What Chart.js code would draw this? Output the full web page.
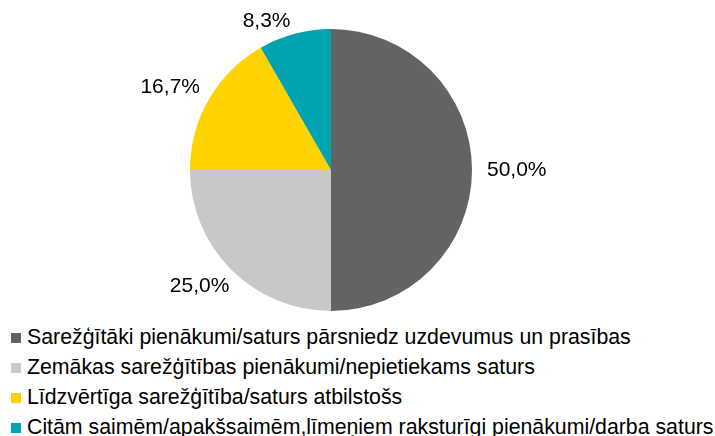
<!DOCTYPE html>
<html>
<head>
<meta charset="utf-8">
<script src="https://cdn.jsdelivr.net/npm/chart.js@4"></script>
<style>
  html, body { margin: 0; padding: 0; background: #fff; overflow: hidden; }
  #wrap { position: relative; width: 715px; height: 436px; }
  #chartBox { position: absolute; left: 0; top: 0; width: 715px; height: 320px; }
  #legend { position: absolute; left: 11px; top: 322px; font-family: "Liberation Sans", Arial, sans-serif; font-size: 21.3px; color: #000; }
  #legend div { height: 30px; line-height: 30px; white-space: nowrap; }
  #legend span.box { display: inline-block; width: 10px; height: 10px; margin-right: 6px; vertical-align: 1px; }
</style>
</head>
<body>
<div id="wrap">
  <div id="chartBox"><canvas id="pie"></canvas></div>
  <div id="legend"></div>
</div>
<script>
const categories = [
    'Sarežģītāki pienākumi/saturs pārsniedz uzdevumus un prasības',
    'Zemākas sarežģītības pienākumi/nepietiekams saturs',
    'Līdzvērtīga sarežģītība/saturs atbilstošs',
    'Citām saimēm/apakšsaimēm,līmeņiem raksturīgi pienākumi/darba saturs'
];
const shares = [50.0, 25.0, 16.7, 8.3];
const colors = ['#636363', '#c8c8c8', '#ffd200', '#00a3b0'];

// data labels outside the slices
const outsideLabels = {
    id: 'outsideLabels',
    afterDatasetsDraw(chart) {
        const ctx = chart.ctx;
        const meta = chart.getDatasetMeta(0);
        ctx.save();
        ctx.font = '21px "Liberation Sans", Arial, sans-serif';
        ctx.fillStyle = '#000';
        ctx.textAlign = 'center';
        ctx.textBaseline = 'middle';
        meta.data.forEach((arc, i) => {
            const mid = (arc.startAngle + arc.endAngle) / 2;
            const dx = Math.cos(mid), dy = Math.sin(mid);
            const text = shares[i].toFixed(1).replace('.', ',') + '%';
            const w = ctx.measureText(text).width;
            const h = 17;
            const r = arc.outerRadius + 15;
            let x = arc.x + dx * r + dx * w / 2;
            let y = arc.y + dy * r + dy * h / 2;
            if (y < h / 2 + 13) {
                y = h / 2 + 13;
                x -= 18;
            }
            ctx.fillText(text, x, y);
        });
        ctx.restore();
    }
};

new Chart(document.getElementById('pie'), {
    type: 'pie',
    data: {
        labels: categories,
        datasets: [{
            data: shares,
            backgroundColor: colors,
            borderWidth: 0
        }]
    },
    options: {
        responsive: true,
        maintainAspectRatio: false,
        animation: false,
        layout: { padding: { top: 29, bottom: 9, left: 0, right: 53 } },
        plugins: {
            legend: { display: false },
            tooltip: { enabled: false }
        }
    },
    plugins: [outsideLabels]
});

const legend = document.getElementById('legend');
categories.forEach((c, i) => {
    const row = document.createElement('div');
    row.innerHTML = `<span class="box" style="background:${colors[i]}"></span>${c}`;
    legend.appendChild(row);
});
</script>
</body>
</html>
